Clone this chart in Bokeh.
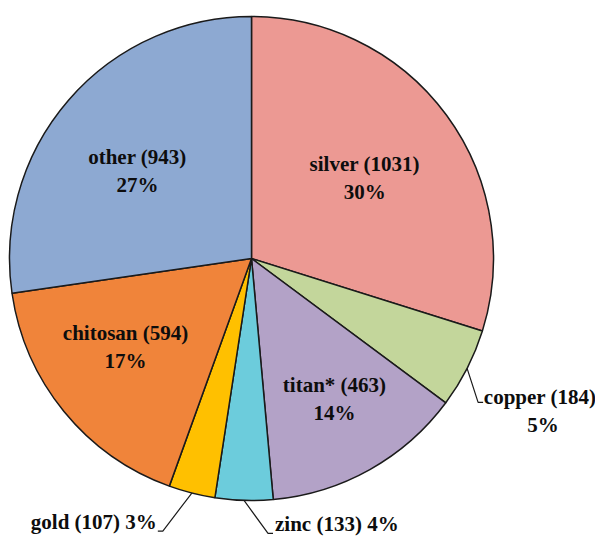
import math
from bokeh.plotting import figure
from bokeh.models import Range1d, ColumnDataSource
from bokeh.core.properties import value
from bokeh.embed import file_html
from bokeh.resources import INLINE

names = ["silver", "copper", "titan*", "zinc", "gold", "chitosan", "other"]
counts = [1031, 184, 463, 133, 107, 594, 943]
pct_labels = ["30%", "5%", "14%", "4%", "3%", "17%", "27%"]
colors = ["#EC9993", "#C3D69B", "#B3A2C7", "#6CCCDC", "#FFC000", "#F0843A", "#8DA9D2"]

W, H = 595, 536
p = figure(width=W, height=H, output_backend="svg", toolbar_location=None,
           x_range=Range1d(0, W), y_range=Range1d(536 - H, 536),
           min_border=0)
p.axis.visible = False
p.grid.visible = False
p.outline_line_color = None
p.background_fill_color = "white"

def Y(py):
    return 536 - py

cx, cy, R = 251, Y(258), 242
total = sum(counts)
starts, ends, mids = [], [], []
cum = 0
for c in counts:
    a0 = math.pi / 2 - 2 * math.pi * cum / total
    cum += c
    a1 = math.pi / 2 - 2 * math.pi * cum / total
    starts.append(a0)
    ends.append(a1)
    mids.append((a0 + a1) / 2)

src = ColumnDataSource(dict(start=starts, end=ends, color=colors))
p.wedge(x=cx, y=cy, radius=R, start_angle="start", end_angle="end",
        direction="clock", fill_color="color", line_color="#1a1a1a",
        line_width=1.5, source=src)

font = value("Liberation Serif")
fs = "21px"
tc = "#0d0d0d"

# inner labels: (index, radial factor, angle adjust in degrees, ccw positive)
inner = [(0, 0.575, -0.7), (2, 0.676, 1.2), (5, 0.637, -4.0), (6, 0.593, 3.5)]
for i, k, adj in inner:
    a = mids[i] + math.radians(adj)
    x = cx + R * k * math.cos(a)
    y = cy + R * k * math.sin(a)
    p.text(x=[x, x], y=[y + 14, y - 14],
           text=[f"{names[i]} ({counts[i]})", pct_labels[i]],
           text_font=font, text_font_style="bold", text_font_size=fs,
           text_align="center", text_baseline="middle", text_color=tc)

def edge(i):
    return cx + R * math.cos(mids[i]), cy + R * math.sin(mids[i])

# copper
x0, y0 = edge(1)
ex, ey = x0 + 11, y0 - 34
p.line([x0, ex, ex + 5], [y0, ey, ey], line_color="#1a1a1a", line_width=1.2)
p.text(x=[ex + 5 + 57, ex + 5 + 60], y=[ey + 5, ey - 23],
       text=[f"{names[1]} ({counts[1]})", pct_labels[1]],
       text_font=font, text_font_style="bold", text_font_size=fs,
       text_align="center", text_baseline="middle", text_color=tc)

# zinc
x0, y0 = edge(3)
ex, ey = x0 + 24, y0 - 33
p.line([x0, ex, ex + 5], [y0, ey, ey], line_color="#1a1a1a", line_width=1.2)
p.text(x=[ex + 7], y=[ey + 9],
       text=[f"{names[3]} ({counts[3]}) {pct_labels[3]}"],
       text_font=font, text_font_style="bold", text_font_size=fs,
       text_align="left", text_baseline="middle", text_color=tc)

# gold
x0, y0 = edge(4)
ex, ey = x0 - 29, y0 - 38
p.line([x0, ex, ex - 5], [y0, ey, ey], line_color="#1a1a1a", line_width=1.2)
p.text(x=[ex - 6], y=[ey + 9],
       text=[f"{names[4]} ({counts[4]}) {pct_labels[4]}"],
       text_font=font, text_font_style="bold", text_font_size=fs,
       text_align="right", text_baseline="middle", text_color=tc)

open("out.html", "w").write(file_html(p, INLINE))
